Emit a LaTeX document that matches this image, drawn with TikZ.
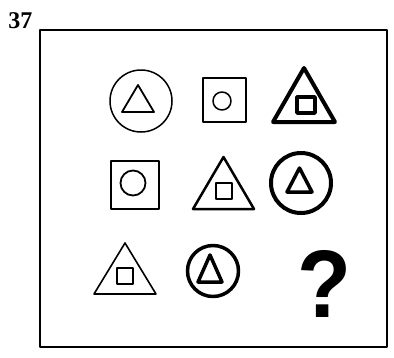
\documentclass[tikz,border=0pt]{standalone}
\usepackage{fontspec}
\setmainfont{Liberation Serif}
\newfontfamily\qfont{Liberation Sans}
\begin{document}
\begin{tikzpicture}[x=1pt,y=-1pt,line join=round]
\useasboundingbox (0,0) rectangle (394,357);
% Frame and number
\draw[line width=1.8] (40,30) rectangle (387,347);
\node[anchor=base,inner sep=0pt,font=\fontsize{24}{24}\selectfont\bfseries] (num) at (20.5,28) {37};
% Row 1
\draw[line width=1.5] (141,101) circle (31);
\draw[line width=1.8] (122,112) -- (154,112) -- (138,85) -- cycle;
\draw[line width=1.8] (203,78) rectangle (246,122);
\draw[line width=1.5] (222,101) circle (9);
\draw[line width=4] (273,122) -- (335,122) -- (304,68) -- cycle;
\draw[line width=3.5] (297,97) rectangle (315,113);
% Row 2
\draw[line width=2.5] (111,161) rectangle (159,209);
\draw[line width=1.8] (133,183) circle (12.5);
\draw[line width=2.5] (193,209) -- (254,209) -- (223.5,157) -- cycle;
\draw[line width=2.2] (216,183) rectangle (232,199);
\draw[line width=4] (301,183) circle (30);
\draw[line width=3.5] (287,192) -- (312,192) -- (299.5,168) -- cycle;
% Row 3
\draw[line width=1.6] (94,294) -- (156,294) -- (125,243) -- cycle;
\draw[line width=2] (117,268) rectangle (133,284);
\draw[line width=3.5] (213,271) circle (25.5);
\draw[line width=3.5] (198,282) -- (222,282) -- (210,255) -- cycle;
\node[anchor=base,inner sep=0pt,xscale=0.92,font=\qfont\fontsize{96}{96}\selectfont\bfseries] (qm) at (324.5,317) {?};
\end{tikzpicture}
\end{document}
